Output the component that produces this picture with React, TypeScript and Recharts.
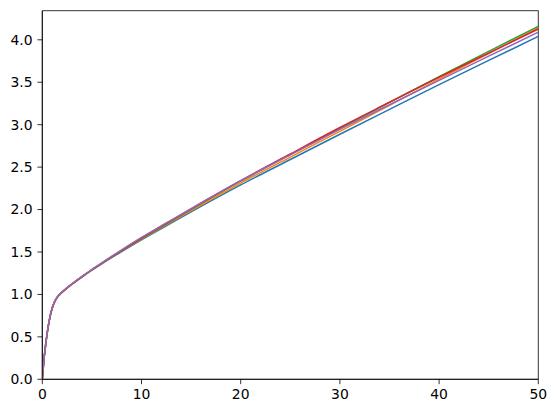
import React from 'react';
import { LineChart, Line, XAxis, YAxis, ReferenceArea } from 'recharts';

// x positions shared by all five curves
const xValues = [0, 0.1, 0.2, 0.3, 0.5, 0.75, 1, 1.25, 1.5, 2, 2.5, 3, 4, 5, 6, 8, 10, 12.5, 15, 20, 25, 30, 35, 40, 45, 50];

const blueSeries = [0, 0.14, 0.27, 0.37, 0.55, 0.72, 0.84, 0.915, 0.965, 1.025, 1.075, 1.12, 1.205, 1.285, 1.361, 1.505, 1.643, 1.808, 1.972, 2.29, 2.59, 2.887, 3.18, 3.472, 3.757, 4.04];
const orangeSeries = [0, 0.14, 0.27, 0.37, 0.55, 0.72, 0.84, 0.915, 0.965, 1.026, 1.076, 1.122, 1.208, 1.289, 1.366, 1.513, 1.653, 1.82, 1.987, 2.312, 2.618, 2.922, 3.228, 3.537, 3.839, 4.14];
const greenSeries = [0, 0.14, 0.27, 0.37, 0.55, 0.72, 0.84, 0.915, 0.965, 1.026, 1.077, 1.123, 1.209, 1.29, 1.368, 1.516, 1.658, 1.83, 2.002, 2.335, 2.648, 2.957, 3.262, 3.567, 3.864, 4.158];
const redSeries = [0, 0.14, 0.27, 0.37, 0.55, 0.72, 0.84, 0.915, 0.966, 1.027, 1.078, 1.124, 1.21, 1.291, 1.37, 1.519, 1.663, 1.836, 2.007, 2.34, 2.655, 2.967, 3.264, 3.559, 3.844, 4.127];
const purpleSeries = [0, 0.14, 0.27, 0.37, 0.552, 0.723, 0.844, 0.919, 0.97, 1.03, 1.081, 1.126, 1.212, 1.293, 1.373, 1.525, 1.671, 1.842, 2.012, 2.34, 2.645, 2.945, 3.235, 3.522, 3.807, 4.09];

const xTicks = [0, 10, 20, 30, 40, 50];
const yTicks = [0, 0.5, 1.0, 1.5, 2.0, 2.5, 3.0, 3.5, 4.0];

const series = [
  { key: 's0', values: blueSeries, color: '#1f77b4' },
  { key: 's1', values: orangeSeries, color: '#ff7f0e' },
  { key: 's2', values: greenSeries, color: '#2ca02c' },
  { key: 's3', values: redSeries, color: '#d62728' },
  { key: 's4', values: purpleSeries, color: '#9467bd' },
];

const rows = xValues.map((x, i) => {
  const row: Record<string, number> = { x };
  series.forEach((s) => {
    row[s.key] = s.values[i];
  });
  return row;
});

const Y_MAX = 4.343;
const tickStyle = { fill: '#000', fontSize: 13.9, fontFamily: 'DejaVu Sans' };

export default function App() {
  return (
    <div style={{ position: 'absolute', left: 0, top: 0, background: '#fff' }}>
      <LineChart
        width={556}
        height={413}
        data={rows}
        margin={{ top: 10.7, right: 17.7, bottom: 0, left: 0 }}
      >
        <XAxis
          dataKey="x"
          type="number"
          domain={[0, 50]}
          ticks={xTicks}
          allowDataOverflow
          height={33.7}
          tick={tickStyle}
          tickSize={4.9}
          tickMargin={4.9}
          axisLine={{ stroke: '#000', strokeWidth: 0.8 }}
          tickLine={{ stroke: '#000', strokeWidth: 0.8 }}
        />
        <YAxis
          type="number"
          domain={[0, Y_MAX]}
          ticks={yTicks}
          allowDataOverflow
          width={42.3}
          tick={tickStyle}
          tickFormatter={(v: number) => v.toFixed(1)}
          tickSize={4.9}
          tickMargin={4.9}
          axisLine={{ stroke: '#000', strokeWidth: 0.8 }}
          tickLine={{ stroke: '#000', strokeWidth: 0.8 }}
        />
        {series.map((s) => (
          <Line
            key={s.key}
            type="monotone"
            dataKey={s.key}
            stroke={s.color}
            strokeWidth={1.5}
            dot={false}
            activeDot={false}
            isAnimationActive={false}
          />
        ))}
        {/* axes frame, like matplotlib's spines */}
        <ReferenceArea
          x1={0}
          x2={50}
          y1={0}
          y2={Y_MAX}
          fill="none"
          fillOpacity={0}
          stroke="#000"
          strokeWidth={0.8}
        />
      </LineChart>
    </div>
  );
}
